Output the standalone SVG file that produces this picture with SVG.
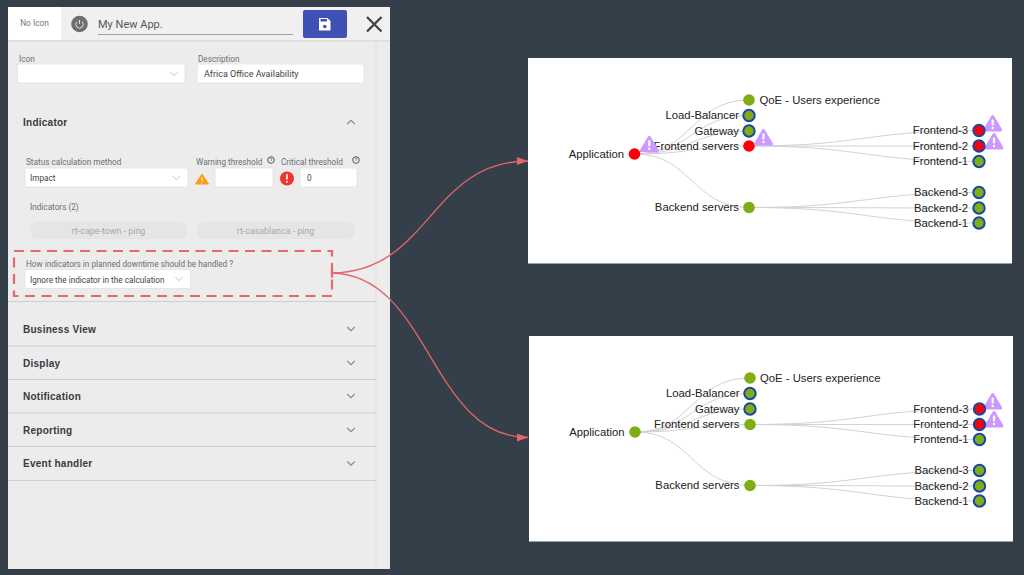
<svg xmlns="http://www.w3.org/2000/svg" width="1024" height="575" viewBox="0 0 1024 575">
<style>
.ui{font-family:Roboto,"Liberation Sans",sans-serif}
.lbl{font-size:8.2px;fill:#6a6f78}
.val{font-size:8.2px;fill:#444}
.desc{font-size:9px;fill:#444}
.sec{font-size:10px;font-weight:700;fill:#3a3a40;letter-spacing:.25px;font-family:"Liberation Sans",sans-serif}
.field{fill:#fff;stroke:#e2e2e2;stroke-width:.8}
.chev{fill:none;stroke:#8a8a8a;stroke-width:1.2}
.chevf{fill:none;stroke:#c8c8c8;stroke-width:1}
.sep{stroke:#cfcfcf;stroke-width:1.2}
.chip{fill:#e5e5e5}
.chipt{font-size:8.9px;fill:#a8a8a8;text-anchor:middle}
.t{font-family:"Liberation Sans",Arial,sans-serif;font-size:11.3px;fill:#222;transform:translateY(-.5px)}
.e{text-anchor:end}
.link{fill:none;stroke:#d2d2d2;stroke-width:1}
.g{fill:#7fae14}
.r{fill:#fb0007}
.b{stroke:#1c45a8;stroke-width:2}
.flow{fill:none;stroke:#e2656a;stroke-width:1.3}
</style>
<defs>
<marker id="ah" markerUnits="userSpaceOnUse" markerWidth="12" markerHeight="10" refX="11" refY="4" orient="auto"><path d="M0 0L11 4L0 8Z" fill="#e2656a"/></marker>
<g id="alert"><path d="M0 -7.500L8 6H-8Z" fill="#cc99ff" stroke="#cc99ff" stroke-width="3" stroke-linejoin="round"/><rect x="-1.100" y="-4.500" width="2.200" height="6" rx=".8" fill="#fff"/><circle cx="0" cy="4" r="1.200" fill="#fff"/></g>
<path id="dn" d="M-3.800 -2L0 1.600L3.800 -2"/>
<g id="help"><circle r="3.300" fill="none" stroke="#555" stroke-width="1"/><path d="M-1 -.9a1 1 0 1 1 1.400 1l-.4 .7" fill="none" stroke="#555" stroke-width=".7"/></g>
</defs>
<rect width="1024" height="575" fill="#343f49"/>

<g id="panel">
<rect x="8" y="7" width="382" height="562" fill="#ececec"/>
<rect x="8" y="7" width="382" height="33.500" fill="#f0f0f0"/>
<line x1="8" y1="40.800" x2="390" y2="40.800" stroke="#d8d8d8" stroke-width="1.200"/>
<line x1="376" y1="41" x2="376" y2="568" stroke="#e0e0e0"/>
<rect x="8" y="7" width="53" height="33" fill="#fff"/>
<text class="ui" x="34.500" y="26" font-size="8.300" fill="#777" text-anchor="middle">No Icon</text>
<circle cx="79.500" cy="24" r="8.300" fill="#6e6e6e"/>
<path d="M76.900 21.800a3.700 3.700 0 1 0 5.200 0M79.500 20v3.800" fill="none" stroke="#e8e8e8" stroke-width="1"/>
<text class="ui" x="98" y="28" font-size="11" fill="#555">My New App.</text>
<line x1="98" y1="34.500" x2="293" y2="34.500" stroke="#8c8c8c" stroke-width=".8"/>
<rect x="303" y="10" width="44" height="28" rx="2" fill="#3f51b5"/>
<path d="M319 18h8.500l3 3v9.500h-11.500Z" fill="#fff"/><circle cx="324.800" cy="26.500" r="1.800" fill="#3f51b5"/><rect x="320.500" y="19" width="6.500" height="2.500" fill="#3f51b5"/>
<path d="M367 17L381.500 31.500M381.500 17L367 31.500" stroke="#444" stroke-width="2.300" fill="none"/>

<text class="ui lbl" x="19" y="62">Icon</text>
<rect class="field" x="17.500" y="64" width="167.500" height="19"/>
<use href="#dn" class="chevf" x="174" y="74"/>
<text class="ui lbl" x="198" y="62">Description</text>
<rect class="field" x="197" y="64" width="167" height="19"/>
<text class="ui desc" x="204" y="76.500">Africa Office Availability</text>

<text class="sec" x="23" y="126">Indicator</text>
<path class="chev" d="M347.200 124L351 120.400L354.800 124"/>

<text class="ui lbl" x="26" y="165">Status calculation method</text>
<rect class="field" x="25" y="168" width="163" height="19"/>
<text class="ui val" x="30" y="181">Impact</text>
<use href="#dn" class="chevf" x="176.500" y="178"/>
<text class="ui lbl" x="196" y="165">Warning threshold</text>
<use href="#help" x="271" y="160"/>
<path d="M202 174L208.500 184H195.500Z" fill="#fb9c14" stroke="#fb9c14" stroke-linejoin="round"/>
<rect x="201.500" y="177.500" width="1" height="3.500" fill="#fff"/><rect x="201.500" y="182" width="1" height="1" fill="#fff"/>
<rect class="field" x="215" y="168" width="58" height="19"/>
<text class="ui lbl" x="281" y="165">Critical threshold</text>
<use href="#help" x="356" y="160"/>
<circle cx="287" cy="178.500" r="7" fill="#ee3530"/>
<rect x="286.200" y="174" width="1.600" height="5.500" fill="#fff"/><rect x="286.200" y="181" width="1.600" height="1.600" fill="#fff"/>
<rect class="field" x="300" y="168" width="57" height="19"/>
<text class="ui val" x="307" y="181">0</text>

<text class="ui lbl" x="30" y="210">Indicators (2)</text>
<rect class="chip" x="30" y="222" width="158" height="17" rx="8.500"/>
<text class="ui chipt" x="108.500" y="234">rt-cape-town - ping</text>
<rect class="chip" x="196" y="222" width="159" height="17" rx="8.500"/>
<text class="ui chipt" x="275.500" y="234">rt-casablanca - ping</text>

<text class="ui lbl" x="26" y="267">How indicators in planned downtime should be handled ?</text>
<rect class="field" x="25" y="269.500" width="165.500" height="19" stroke="#d4d4d4"/>
<text class="ui val" x="30" y="282.500">Ignore the indicator in the calculation</text>
<use href="#dn" class="chevf" x="179" y="279"/>

<line class="sep" x1="8" y1="301.500" x2="376" y2="301.500"/>
<text class="sec" x="23" y="333">Business View</text><use href="#dn" class="chev" x="351" y="329"/>
<line class="sep" x1="8" y1="346" x2="376" y2="346"/>
<text class="sec" x="23" y="366.500">Display</text><use href="#dn" class="chev" x="351" y="363"/>
<line class="sep" x1="8" y1="379.500" x2="376" y2="379.500"/>
<text class="sec" x="23" y="400">Notification</text><use href="#dn" class="chev" x="351" y="396"/>
<line class="sep" x1="8" y1="413" x2="376" y2="413"/>
<text class="sec" x="23" y="433.500">Reporting</text><use href="#dn" class="chev" x="351" y="430"/>
<line class="sep" x1="8" y1="446.500" x2="376" y2="446.500"/>
<text class="sec" x="23" y="467">Event handler</text><use href="#dn" class="chev" x="351" y="463.500"/>
<line class="sep" x1="8" y1="480.500" x2="376" y2="480.500"/>
</g>

<g id="highlight"><rect x="14" y="251" width="318" height="45" fill="none" stroke="#e8686c" stroke-width="2.200" stroke-dasharray="10 6.500"/></g>

<g id="scene1">
<rect x="528" y="58" width="484" height="205.500" fill="#fff"/>
<g class="links">
<path class="link" d="M634.500 154C692 154 692 100 749 100"/>
<path class="link" d="M634.500 154C692 154 692 115.500 749 115.500"/>
<path class="link" d="M634.500 154C692 154 692 131 749 131"/>
<path class="link" d="M634.500 154C692 154 692 146 749 146"/>
<path class="link" d="M634.500 154C692 154 692 207.500 749 207.500"/>
<path class="link" d="M749 146C864 146 864 130.500 979 130.500"/>
<path class="link" d="M749 146C864 146 864 146 979 146"/>
<path class="link" d="M749 146C864 146 864 161.500 979 161.500"/>
<path class="link" d="M749 207.500C864 207.500 864 192.500 979 192.500"/>
<path class="link" d="M749 207.500C864 207.500 864 208 979 208"/>
<path class="link" d="M749 207.500C864 207.500 864 223 979 223"/>
</g>
<g id="s1-qoe"><circle class="g" cx="749" cy="100" r="5.800"/><text class="t" x="759.500" y="104">QoE - Users experience</text></g>
<g id="s1-lb"><circle class="g b" cx="749" cy="115.500" r="5.700"/><text class="t e" x="739" y="119.500">Load-Balancer</text></g>
<g id="s1-gw"><circle class="g b" cx="749" cy="131" r="5.700"/><text class="t e" x="739" y="135">Gateway</text></g>
<g id="s1-fs"><circle class="r" cx="749" cy="146" r="5.800"/><text class="t e" x="739" y="150">Frontend servers</text><use href="#alert" x="763.500" y="138"/></g>
<g id="s1-bs"><circle class="g" cx="749" cy="207.500" r="5.800"/><text class="t e" x="739" y="211.500">Backend servers</text></g>
<g id="s1-f3"><use href="#alert" x="992.700" y="124"/><circle class="r b" cx="979" cy="130.500" r="5.700"/><text class="t e" x="968" y="134.500">Frontend-3</text></g>
<g id="s1-f2"><use href="#alert" x="994" y="142"/><circle class="r b" cx="979" cy="146" r="5.700"/><text class="t e" x="968" y="150">Frontend-2</text></g>
<g id="s1-f1"><circle class="g b" cx="979" cy="161.500" r="5.700"/><text class="t e" x="968" y="165.500">Frontend-1</text></g>
<g id="s1-b3"><circle class="g b" cx="979" cy="192.500" r="5.700"/><text class="t e" x="968" y="196.500">Backend-3</text></g>
<g id="s1-b2"><circle class="g b" cx="979" cy="208" r="5.700"/><text class="t e" x="968" y="212">Backend-2</text></g>
<g id="s1-b1"><circle class="g b" cx="979" cy="223" r="5.700"/><text class="t e" x="968" y="227">Backend-1</text></g>
<g id="s1-app"><circle class="r" cx="634.500" cy="154" r="5.800"/><text class="t e" x="624" y="158">Application</text><use href="#alert" x="649.300" y="144.800"/></g>
</g>

<g id="scene2">
<rect x="529" y="336" width="484" height="205.500" fill="#fff"/>
<g class="links">
<path class="link" d="M635 432C692 432 692 378 750 378"/>
<path class="link" d="M635 432C692 432 692 393.500 750 393.500"/>
<path class="link" d="M635 432C692 432 692 409 750 409"/>
<path class="link" d="M635 432C692 432 692 424.500 750 424.500"/>
<path class="link" d="M635 432C692 432 692 485.500 750 485.500"/>
<path class="link" d="M750 424.500C865 424.500 865 409 979.500 409"/>
<path class="link" d="M750 424.500C865 424.500 865 424.500 979.500 424.500"/>
<path class="link" d="M750 424.500C865 424.500 865 439.500 979.500 439.500"/>
<path class="link" d="M750 485.500C865 485.500 865 470.500 979.500 470.500"/>
<path class="link" d="M750 485.500C865 485.500 865 486 979.500 486"/>
<path class="link" d="M750 485.500C865 485.500 865 501 979.500 501"/>
</g>
<g id="s2-app"><circle class="g" cx="635" cy="432" r="5.800"/><text class="t e" x="624.500" y="436">Application</text></g>
<g id="s2-qoe"><circle class="g" cx="750" cy="378" r="5.800"/><text class="t" x="760" y="382">QoE - Users experience</text></g>
<g id="s2-lb"><circle class="g b" cx="750" cy="393.500" r="5.700"/><text class="t e" x="739.500" y="397.500">Load-Balancer</text></g>
<g id="s2-gw"><circle class="g b" cx="750" cy="409" r="5.700"/><text class="t e" x="739.500" y="413">Gateway</text></g>
<g id="s2-fs"><circle class="g" cx="750" cy="424.500" r="5.800"/><text class="t e" x="739.500" y="428.500">Frontend servers</text></g>
<g id="s2-bs"><circle class="g" cx="750" cy="485.500" r="5.800"/><text class="t e" x="739.500" y="489.500">Backend servers</text></g>
<g id="s2-f3"><use href="#alert" x="992.700" y="402"/><circle class="r b" cx="979.500" cy="409" r="5.700"/><text class="t e" x="968.500" y="413">Frontend-3</text></g>
<g id="s2-f2"><use href="#alert" x="994" y="420"/><circle class="r b" cx="979.500" cy="424.500" r="5.700"/><text class="t e" x="968.500" y="428.500">Frontend-2</text></g>
<g id="s2-f1"><circle class="g b" cx="979.500" cy="439.500" r="5.700"/><text class="t e" x="968.500" y="443.500">Frontend-1</text></g>
<g id="s2-b3"><circle class="g b" cx="979.500" cy="470.500" r="5.700"/><text class="t e" x="968.500" y="474.500">Backend-3</text></g>
<g id="s2-b2"><circle class="g b" cx="979.500" cy="486" r="5.700"/><text class="t e" x="968.500" y="490">Backend-2</text></g>
<g id="s2-b1"><circle class="g b" cx="979.500" cy="501" r="5.700"/><text class="t e" x="968.500" y="505">Backend-1</text></g>
</g>

<g id="connectors">
<line x1="332" y1="268.500" x2="332" y2="277.500" stroke="#e8686c" stroke-width="2.200"/>
<path class="flow" marker-end="url(#ah)" d="M332 273C430 272 430 161 528 161"/>
<path class="flow" marker-end="url(#ah)" d="M332 273C430 275 430 437.500 528 437.500"/>
</g>
</svg>
